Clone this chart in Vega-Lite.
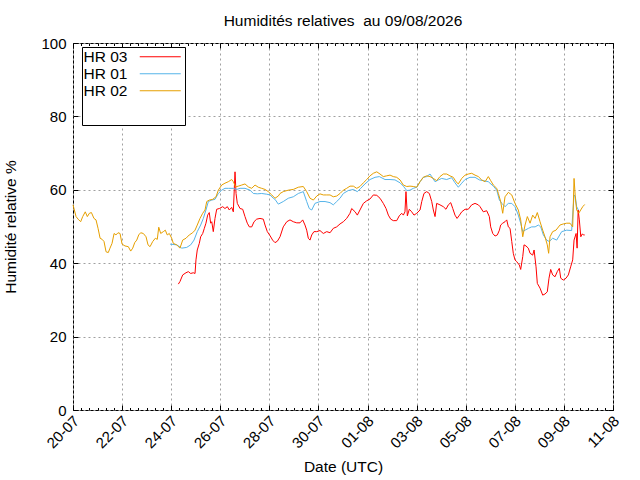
{
  "$schema": "https://vega.github.io/schema/vega-lite/v6.json",
  "width": 540,
  "height": 367,
  "autosize": {"type": "none"},
  "padding": {"left": 73, "top": 43, "right": 27, "bottom": 70},
  "background": "white",
  "title": {
    "text": "Humidités relatives \u00a0au 09/08/2026",
    "font": "Liberation Sans",
    "fontSize": 15.5,
    "fontWeight": "normal",
    "color": "black",
    "anchor": "middle",
    "offset": 7
  },
  "config": {
    "view": {"stroke": "black", "strokeWidth": 1},
    "axis": {
      "labelFont": "Liberation Sans",
      "labelFontSize": 15,
      "labelColor": "black",
      "titleFont": "Liberation Sans",
      "titleFontSize": 15.5,
      "titleFontWeight": "normal",
      "titleColor": "black",
      "domain": false,
      "tickColor": "black",
      "gridColor": "#a0a0a0",
      "gridDash": [2, 3],
      "labelFlush": false,
      "labelOverlap": false
    },
    "legend": {
      "orient": "none",
      "legendX": 9,
      "legendY": 4,
      "symbolType": "M9.6,0H17.8",
      "symbolSize": 100,
      "symbolStrokeWidth": 1,
      "labelFont": "Liberation Sans",
      "labelFontSize": 15.5,
      "labelColor": "black",
      "labelAlign": "left",
      "labelOffset": -16,
      "strokeColor": "black",
      "fillColor": "white",
      "padding": 2,
      "rowPadding": -4,
      "titleOrient": "bottom",
      "titleFontSize": 10,
      "titlePadding": 14
    }
  },
  "data": {
    "values": [
      {"t": "2026-07-24T07:00Z", "s": "HR 03", "v": 34.3},
      {"t": "2026-07-24T08:35Z", "s": "HR 03", "v": 35},
      {"t": "2026-07-24T11:15Z", "s": "HR 03", "v": 36.8},
      {"t": "2026-07-24T14:30Z", "s": "HR 03", "v": 37.4},
      {"t": "2026-07-24T16:45Z", "s": "HR 03", "v": 37.7},
      {"t": "2026-07-24T19:05Z", "s": "HR 03", "v": 37.2},
      {"t": "2026-07-24T21:35Z", "s": "HR 03", "v": 37.4},
      {"t": "2026-07-24T23:20Z", "s": "HR 03", "v": 37.2},
      {"t": "2026-07-25T00:15Z", "s": "HR 03", "v": 40.9},
      {"t": "2026-07-25T01:30Z", "s": "HR 03", "v": 43.6},
      {"t": "2026-07-25T03:30Z", "s": "HR 03", "v": 45.4},
      {"t": "2026-07-25T04:50Z", "s": "HR 03", "v": 47.2},
      {"t": "2026-07-25T06:50Z", "s": "HR 03", "v": 48.1},
      {"t": "2026-07-25T08:25Z", "s": "HR 03", "v": 49.5},
      {"t": "2026-07-25T10:00Z", "s": "HR 03", "v": 50.9},
      {"t": "2026-07-25T11:40Z", "s": "HR 03", "v": 53.1},
      {"t": "2026-07-25T13:15Z", "s": "HR 03", "v": 53.8},
      {"t": "2026-07-25T14:35Z", "s": "HR 03", "v": 50.9},
      {"t": "2026-07-25T15:40Z", "s": "HR 03", "v": 51.3},
      {"t": "2026-07-25T17:10Z", "s": "HR 03", "v": 48.6},
      {"t": "2026-07-25T18:50Z", "s": "HR 03", "v": 52.2},
      {"t": "2026-07-25T20:30Z", "s": "HR 03", "v": 54.7},
      {"t": "2026-07-25T23:05Z", "s": "HR 03", "v": 54.9},
      {"t": "2026-07-26T02:25Z", "s": "HR 03", "v": 55.4},
      {"t": "2026-07-26T04:35Z", "s": "HR 03", "v": 54.9},
      {"t": "2026-07-26T06:55Z", "s": "HR 03", "v": 55.4},
      {"t": "2026-07-26T08:50Z", "s": "HR 03", "v": 54.5},
      {"t": "2026-07-26T11:10Z", "s": "HR 03", "v": 55.2},
      {"t": "2026-07-26T12:45Z", "s": "HR 03", "v": 54},
      {"t": "2026-07-26T14:25Z", "s": "HR 03", "v": 64.9},
      {"t": "2026-07-26T15:25Z", "s": "HR 03", "v": 59},
      {"t": "2026-07-26T16:40Z", "s": "HR 03", "v": 56.3},
      {"t": "2026-07-26T19:20Z", "s": "HR 03", "v": 54.9},
      {"t": "2026-07-26T21:55Z", "s": "HR 03", "v": 54.7},
      {"t": "2026-07-27T00:10Z", "s": "HR 03", "v": 52.7},
      {"t": "2026-07-27T02:25Z", "s": "HR 03", "v": 50.9},
      {"t": "2026-07-27T04:25Z", "s": "HR 03", "v": 49.9},
      {"t": "2026-07-27T06:45Z", "s": "HR 03", "v": 49.9},
      {"t": "2026-07-27T09:00Z", "s": "HR 03", "v": 51.3},
      {"t": "2026-07-27T11:35Z", "s": "HR 03", "v": 52},
      {"t": "2026-07-27T14:50Z", "s": "HR 03", "v": 52.2},
      {"t": "2026-07-27T18:05Z", "s": "HR 03", "v": 52},
      {"t": "2026-07-27T19:45Z", "s": "HR 03", "v": 50.4},
      {"t": "2026-07-27T22:00Z", "s": "HR 03", "v": 48.6},
      {"t": "2026-07-28T00:40Z", "s": "HR 03", "v": 47.5},
      {"t": "2026-07-28T03:10Z", "s": "HR 03", "v": 46.3},
      {"t": "2026-07-28T05:30Z", "s": "HR 03", "v": 45.6},
      {"t": "2026-07-28T07:50Z", "s": "HR 03", "v": 46},
      {"t": "2026-07-28T10:25Z", "s": "HR 03", "v": 47.2},
      {"t": "2026-07-28T13:35Z", "s": "HR 03", "v": 49.9},
      {"t": "2026-07-28T17:00Z", "s": "HR 03", "v": 51.3},
      {"t": "2026-07-28T20:10Z", "s": "HR 03", "v": 51.8},
      {"t": "2026-07-28T23:25Z", "s": "HR 03", "v": 51.3},
      {"t": "2026-07-29T02:45Z", "s": "HR 03", "v": 51},
      {"t": "2026-07-29T06:00Z", "s": "HR 03", "v": 51},
      {"t": "2026-07-29T08:35Z", "s": "HR 03", "v": 51.8},
      {"t": "2026-07-29T10:50Z", "s": "HR 03", "v": 50.4},
      {"t": "2026-07-29T12:30Z", "s": "HR 03", "v": 49},
      {"t": "2026-07-29T14:05Z", "s": "HR 03", "v": 46.8},
      {"t": "2026-07-29T15:45Z", "s": "HR 03", "v": 46.3},
      {"t": "2026-07-29T17:25Z", "s": "HR 03", "v": 47.7},
      {"t": "2026-07-29T19:35Z", "s": "HR 03", "v": 48.6},
      {"t": "2026-07-29T22:20Z", "s": "HR 03", "v": 48.6},
      {"t": "2026-07-30T01:30Z", "s": "HR 03", "v": 48.9},
      {"t": "2026-07-30T04:45Z", "s": "HR 03", "v": 48.1},
      {"t": "2026-07-30T08:05Z", "s": "HR 03", "v": 48.6},
      {"t": "2026-07-30T11:20Z", "s": "HR 03", "v": 48.3},
      {"t": "2026-07-30T14:30Z", "s": "HR 03", "v": 49.5},
      {"t": "2026-07-30T17:50Z", "s": "HR 03", "v": 49.9},
      {"t": "2026-07-30T21:05Z", "s": "HR 03", "v": 50.7},
      {"t": "2026-07-31T00:20Z", "s": "HR 03", "v": 51.3},
      {"t": "2026-07-31T03:35Z", "s": "HR 03", "v": 52.2},
      {"t": "2026-07-31T06:50Z", "s": "HR 03", "v": 53.6},
      {"t": "2026-07-31T08:30Z", "s": "HR 03", "v": 54.9},
      {"t": "2026-07-31T11:50Z", "s": "HR 03", "v": 54},
      {"t": "2026-07-31T14:00Z", "s": "HR 03", "v": 53.1},
      {"t": "2026-07-31T16:35Z", "s": "HR 03", "v": 54.5},
      {"t": "2026-07-31T19:55Z", "s": "HR 03", "v": 56.3},
      {"t": "2026-07-31T23:10Z", "s": "HR 03", "v": 57},
      {"t": "2026-08-01T02:25Z", "s": "HR 03", "v": 57.5},
      {"t": "2026-08-01T05:40Z", "s": "HR 03", "v": 58.6},
      {"t": "2026-08-01T09:00Z", "s": "HR 03", "v": 58.5},
      {"t": "2026-08-01T12:10Z", "s": "HR 03", "v": 57.7},
      {"t": "2026-08-01T15:25Z", "s": "HR 03", "v": 56.3},
      {"t": "2026-08-01T18:05Z", "s": "HR 03", "v": 54.9},
      {"t": "2026-08-01T20:20Z", "s": "HR 03", "v": 53.1},
      {"t": "2026-08-01T22:40Z", "s": "HR 03", "v": 52},
      {"t": "2026-08-02T01:10Z", "s": "HR 03", "v": 51.6},
      {"t": "2026-08-02T04:30Z", "s": "HR 03", "v": 51.6},
      {"t": "2026-08-02T07:00Z", "s": "HR 03", "v": 52.9},
      {"t": "2026-08-02T09:25Z", "s": "HR 03", "v": 53.6},
      {"t": "2026-08-02T11:00Z", "s": "HR 03", "v": 53.1},
      {"t": "2026-08-02T12:35Z", "s": "HR 03", "v": 54},
      {"t": "2026-08-02T13:35Z", "s": "HR 03", "v": 59.5},
      {"t": "2026-08-02T14:55Z", "s": "HR 03", "v": 52.9},
      {"t": "2026-08-02T16:50Z", "s": "HR 03", "v": 54.7},
      {"t": "2026-08-02T19:10Z", "s": "HR 03", "v": 54},
      {"t": "2026-08-02T21:25Z", "s": "HR 03", "v": 53.1},
      {"t": "2026-08-03T00:05Z", "s": "HR 03", "v": 53.6},
      {"t": "2026-08-03T03:20Z", "s": "HR 03", "v": 54.5},
      {"t": "2026-08-03T05:00Z", "s": "HR 03", "v": 56.8},
      {"t": "2026-08-03T07:10Z", "s": "HR 03", "v": 59},
      {"t": "2026-08-03T09:50Z", "s": "HR 03", "v": 59.5},
      {"t": "2026-08-03T12:25Z", "s": "HR 03", "v": 59},
      {"t": "2026-08-03T14:45Z", "s": "HR 03", "v": 56.8},
      {"t": "2026-08-03T16:20Z", "s": "HR 03", "v": 54.5},
      {"t": "2026-08-03T18:00Z", "s": "HR 03", "v": 52.7},
      {"t": "2026-08-03T19:35Z", "s": "HR 03", "v": 56.3},
      {"t": "2026-08-03T22:50Z", "s": "HR 03", "v": 55.9},
      {"t": "2026-08-04T02:05Z", "s": "HR 03", "v": 55.4},
      {"t": "2026-08-04T04:40Z", "s": "HR 03", "v": 54.7},
      {"t": "2026-08-04T07:00Z", "s": "HR 03", "v": 55.9},
      {"t": "2026-08-04T09:20Z", "s": "HR 03", "v": 56.5},
      {"t": "2026-08-04T11:20Z", "s": "HR 03", "v": 54.9},
      {"t": "2026-08-04T13:30Z", "s": "HR 03", "v": 53.1},
      {"t": "2026-08-04T15:30Z", "s": "HR 03", "v": 52.2},
      {"t": "2026-08-04T17:55Z", "s": "HR 03", "v": 53.1},
      {"t": "2026-08-04T20:05Z", "s": "HR 03", "v": 54},
      {"t": "2026-08-04T23:20Z", "s": "HR 03", "v": 54.7},
      {"t": "2026-08-05T02:30Z", "s": "HR 03", "v": 54.7},
      {"t": "2026-08-05T05:50Z", "s": "HR 03", "v": 55.9},
      {"t": "2026-08-05T09:05Z", "s": "HR 03", "v": 56.3},
      {"t": "2026-08-05T12:20Z", "s": "HR 03", "v": 55.9},
      {"t": "2026-08-05T14:00Z", "s": "HR 03", "v": 55.4},
      {"t": "2026-08-05T17:10Z", "s": "HR 03", "v": 54},
      {"t": "2026-08-05T20:30Z", "s": "HR 03", "v": 54.3},
      {"t": "2026-08-05T23:05Z", "s": "HR 03", "v": 52.7},
      {"t": "2026-08-06T00:25Z", "s": "HR 03", "v": 49.9},
      {"t": "2026-08-06T02:25Z", "s": "HR 03", "v": 48.1},
      {"t": "2026-08-06T04:40Z", "s": "HR 03", "v": 47.4},
      {"t": "2026-08-06T06:55Z", "s": "HR 03", "v": 47.7},
      {"t": "2026-08-06T08:55Z", "s": "HR 03", "v": 49},
      {"t": "2026-08-06T10:10Z", "s": "HR 03", "v": 50.4},
      {"t": "2026-08-06T12:10Z", "s": "HR 03", "v": 50.9},
      {"t": "2026-08-06T14:25Z", "s": "HR 03", "v": 51.3},
      {"t": "2026-08-06T16:05Z", "s": "HR 03", "v": 51.8},
      {"t": "2026-08-06T17:40Z", "s": "HR 03", "v": 49.9},
      {"t": "2026-08-06T19:20Z", "s": "HR 03", "v": 49.5},
      {"t": "2026-08-06T21:00Z", "s": "HR 03", "v": 45.9},
      {"t": "2026-08-06T22:30Z", "s": "HR 03", "v": 42.7},
      {"t": "2026-08-07T00:10Z", "s": "HR 03", "v": 40.9},
      {"t": "2026-08-07T01:55Z", "s": "HR 03", "v": 40.4},
      {"t": "2026-08-07T04:25Z", "s": "HR 03", "v": 39.5},
      {"t": "2026-08-07T05:45Z", "s": "HR 03", "v": 38.3},
      {"t": "2026-08-07T07:45Z", "s": "HR 03", "v": 41.8},
      {"t": "2026-08-07T09:00Z", "s": "HR 03", "v": 45},
      {"t": "2026-08-07T10:55Z", "s": "HR 03", "v": 44.7},
      {"t": "2026-08-07T13:10Z", "s": "HR 03", "v": 44.1},
      {"t": "2026-08-07T14:55Z", "s": "HR 03", "v": 42.7},
      {"t": "2026-08-07T17:30Z", "s": "HR 03", "v": 42.2},
      {"t": "2026-08-07T18:50Z", "s": "HR 03", "v": 43.6},
      {"t": "2026-08-07T20:45Z", "s": "HR 03", "v": 39},
      {"t": "2026-08-07T22:00Z", "s": "HR 03", "v": 34.5},
      {"t": "2026-08-08T00:40Z", "s": "HR 03", "v": 33.2},
      {"t": "2026-08-08T03:15Z", "s": "HR 03", "v": 31.3},
      {"t": "2026-08-08T05:30Z", "s": "HR 03", "v": 31.6},
      {"t": "2026-08-08T07:45Z", "s": "HR 03", "v": 32.2},
      {"t": "2026-08-08T09:25Z", "s": "HR 03", "v": 35.9},
      {"t": "2026-08-08T11:05Z", "s": "HR 03", "v": 38.3},
      {"t": "2026-08-08T13:00Z", "s": "HR 03", "v": 36.8},
      {"t": "2026-08-08T15:20Z", "s": "HR 03", "v": 36.3},
      {"t": "2026-08-08T17:30Z", "s": "HR 03", "v": 37.7},
      {"t": "2026-08-08T19:30Z", "s": "HR 03", "v": 38.6},
      {"t": "2026-08-08T20:55Z", "s": "HR 03", "v": 35.9},
      {"t": "2026-08-08T23:25Z", "s": "HR 03", "v": 35.4},
      {"t": "2026-08-09T02:00Z", "s": "HR 03", "v": 35.9},
      {"t": "2026-08-09T04:20Z", "s": "HR 03", "v": 36.8},
      {"t": "2026-08-09T06:35Z", "s": "HR 03", "v": 39},
      {"t": "2026-08-09T08:35Z", "s": "HR 03", "v": 40.9},
      {"t": "2026-08-09T09:55Z", "s": "HR 03", "v": 46.3},
      {"t": "2026-08-09T11:55Z", "s": "HR 03", "v": 48.1},
      {"t": "2026-08-09T12:55Z", "s": "HR 03", "v": 44.1},
      {"t": "2026-08-09T13:55Z", "s": "HR 03", "v": 54.5},
      {"t": "2026-08-09T15:05Z", "s": "HR 03", "v": 51.8},
      {"t": "2026-08-09T16:30Z", "s": "HR 03", "v": 47.2},
      {"t": "2026-08-09T18:00Z", "s": "HR 03", "v": 48},
      {"t": "2026-08-09T19:00Z", "s": "HR 03", "v": 47.7},
      {"t": "2026-08-09T20:20Z", "s": "HR 03", "v": 47.7},

      {"t": "2026-07-23T22:55Z", "s": "HR 01", "v": 45.2},
      {"t": "2026-07-24T05:25Z", "s": "HR 01", "v": 45},
      {"t": "2026-07-24T10:20Z", "s": "HR 01", "v": 44.1},
      {"t": "2026-07-24T15:10Z", "s": "HR 01", "v": 44.3},
      {"t": "2026-07-24T19:05Z", "s": "HR 01", "v": 45},
      {"t": "2026-07-24T22:20Z", "s": "HR 01", "v": 46.3},
      {"t": "2026-07-25T01:30Z", "s": "HR 01", "v": 48.6},
      {"t": "2026-07-25T04:50Z", "s": "HR 01", "v": 50.4},
      {"t": "2026-07-25T07:25Z", "s": "HR 01", "v": 52.2},
      {"t": "2026-07-25T10:00Z", "s": "HR 01", "v": 54.5},
      {"t": "2026-07-25T12:20Z", "s": "HR 01", "v": 56.8},
      {"t": "2026-07-25T15:40Z", "s": "HR 01", "v": 57.2},
      {"t": "2026-07-25T18:50Z", "s": "HR 01", "v": 57.4},
      {"t": "2026-07-25T22:05Z", "s": "HR 01", "v": 59},
      {"t": "2026-07-26T01:25Z", "s": "HR 01", "v": 59.9},
      {"t": "2026-07-26T04:35Z", "s": "HR 01", "v": 60.4},
      {"t": "2026-07-26T07:50Z", "s": "HR 01", "v": 60.4},
      {"t": "2026-07-26T12:45Z", "s": "HR 01", "v": 60.4},
      {"t": "2026-07-26T16:05Z", "s": "HR 01", "v": 60.1},
      {"t": "2026-07-26T19:20Z", "s": "HR 01", "v": 60.4},
      {"t": "2026-07-27T00:10Z", "s": "HR 01", "v": 60.4},
      {"t": "2026-07-27T05:05Z", "s": "HR 01", "v": 59.9},
      {"t": "2026-07-27T08:20Z", "s": "HR 01", "v": 59},
      {"t": "2026-07-27T12:10Z", "s": "HR 01", "v": 58.9},
      {"t": "2026-07-27T16:30Z", "s": "HR 01", "v": 59},
      {"t": "2026-07-27T21:25Z", "s": "HR 01", "v": 58.8},
      {"t": "2026-07-28T00:40Z", "s": "HR 01", "v": 58.6},
      {"t": "2026-07-28T03:50Z", "s": "HR 01", "v": 57.7},
      {"t": "2026-07-28T05:30Z", "s": "HR 01", "v": 57.4},
      {"t": "2026-07-28T08:45Z", "s": "HR 01", "v": 56.1},
      {"t": "2026-07-28T13:35Z", "s": "HR 01", "v": 56.8},
      {"t": "2026-07-28T18:30Z", "s": "HR 01", "v": 57.7},
      {"t": "2026-07-28T23:25Z", "s": "HR 01", "v": 58.1},
      {"t": "2026-07-29T04:20Z", "s": "HR 01", "v": 59},
      {"t": "2026-07-29T09:10Z", "s": "HR 01", "v": 59.5},
      {"t": "2026-07-29T12:30Z", "s": "HR 01", "v": 56.8},
      {"t": "2026-07-29T15:00Z", "s": "HR 01", "v": 54.9},
      {"t": "2026-07-29T17:25Z", "s": "HR 01", "v": 54.5},
      {"t": "2026-07-29T20:35Z", "s": "HR 01", "v": 56.3},
      {"t": "2026-07-30T01:30Z", "s": "HR 01", "v": 56.8},
      {"t": "2026-07-30T06:25Z", "s": "HR 01", "v": 56.8},
      {"t": "2026-07-30T11:20Z", "s": "HR 01", "v": 56.5},
      {"t": "2026-07-30T14:30Z", "s": "HR 01", "v": 55.9},
      {"t": "2026-07-30T17:50Z", "s": "HR 01", "v": 56.8},
      {"t": "2026-07-30T21:05Z", "s": "HR 01", "v": 57.7},
      {"t": "2026-07-31T00:20Z", "s": "HR 01", "v": 59},
      {"t": "2026-07-31T05:10Z", "s": "HR 01", "v": 59.8},
      {"t": "2026-07-31T10:05Z", "s": "HR 01", "v": 60.1},
      {"t": "2026-07-31T14:00Z", "s": "HR 01", "v": 59.5},
      {"t": "2026-07-31T17:20Z", "s": "HR 01", "v": 60.4},
      {"t": "2026-07-31T21:30Z", "s": "HR 01", "v": 61.6},
      {"t": "2026-08-01T02:25Z", "s": "HR 01", "v": 62.8},
      {"t": "2026-08-01T07:20Z", "s": "HR 01", "v": 63.4},
      {"t": "2026-08-01T11:30Z", "s": "HR 01", "v": 63.6},
      {"t": "2026-08-01T17:05Z", "s": "HR 01", "v": 62.8},
      {"t": "2026-08-01T22:00Z", "s": "HR 01", "v": 62.8},
      {"t": "2026-08-02T02:50Z", "s": "HR 01", "v": 62.7},
      {"t": "2026-08-02T07:45Z", "s": "HR 01", "v": 61.9},
      {"t": "2026-08-02T11:00Z", "s": "HR 01", "v": 61},
      {"t": "2026-08-02T14:20Z", "s": "HR 01", "v": 59.8},
      {"t": "2026-08-02T17:30Z", "s": "HR 01", "v": 59.9},
      {"t": "2026-08-02T20:45Z", "s": "HR 01", "v": 60.4},
      {"t": "2026-08-03T00:05Z", "s": "HR 01", "v": 60.7},
      {"t": "2026-08-03T03:20Z", "s": "HR 01", "v": 62.2},
      {"t": "2026-08-03T06:30Z", "s": "HR 01", "v": 63.4},
      {"t": "2026-08-03T09:50Z", "s": "HR 01", "v": 63.6},
      {"t": "2026-08-03T13:05Z", "s": "HR 01", "v": 64.3},
      {"t": "2026-08-03T14:45Z", "s": "HR 01", "v": 63.6},
      {"t": "2026-08-03T18:00Z", "s": "HR 01", "v": 62.2},
      {"t": "2026-08-03T21:15Z", "s": "HR 01", "v": 62.7},
      {"t": "2026-08-04T00:30Z", "s": "HR 01", "v": 63.1},
      {"t": "2026-08-04T05:25Z", "s": "HR 01", "v": 62.8},
      {"t": "2026-08-04T10:15Z", "s": "HR 01", "v": 63.3},
      {"t": "2026-08-04T13:30Z", "s": "HR 01", "v": 61.9},
      {"t": "2026-08-04T16:45Z", "s": "HR 01", "v": 60.7},
      {"t": "2026-08-04T20:05Z", "s": "HR 01", "v": 61.8},
      {"t": "2026-08-04T23:20Z", "s": "HR 01", "v": 62.8},
      {"t": "2026-08-05T04:10Z", "s": "HR 01", "v": 63.4},
      {"t": "2026-08-05T09:05Z", "s": "HR 01", "v": 63.4},
      {"t": "2026-08-05T13:20Z", "s": "HR 01", "v": 62.7},
      {"t": "2026-08-05T17:10Z", "s": "HR 01", "v": 62.5},
      {"t": "2026-08-05T22:05Z", "s": "HR 01", "v": 62.2},
      {"t": "2026-08-06T03:00Z", "s": "HR 01", "v": 61},
      {"t": "2026-08-06T06:20Z", "s": "HR 01", "v": 59.9},
      {"t": "2026-08-06T08:55Z", "s": "HR 01", "v": 57.2},
      {"t": "2026-08-06T11:20Z", "s": "HR 01", "v": 56.3},
      {"t": "2026-08-06T14:25Z", "s": "HR 01", "v": 55.4},
      {"t": "2026-08-06T17:40Z", "s": "HR 01", "v": 56.3},
      {"t": "2026-08-06T21:00Z", "s": "HR 01", "v": 56.3},
      {"t": "2026-08-07T00:10Z", "s": "HR 01", "v": 55.4},
      {"t": "2026-08-07T03:25Z", "s": "HR 01", "v": 53.1},
      {"t": "2026-08-07T05:45Z", "s": "HR 01", "v": 50.9},
      {"t": "2026-08-07T07:45Z", "s": "HR 01", "v": 48.6},
      {"t": "2026-08-07T10:00Z", "s": "HR 01", "v": 49},
      {"t": "2026-08-07T13:20Z", "s": "HR 01", "v": 49.5},
      {"t": "2026-08-07T16:30Z", "s": "HR 01", "v": 49.9},
      {"t": "2026-08-07T19:50Z", "s": "HR 01", "v": 49.9},
      {"t": "2026-08-07T23:00Z", "s": "HR 01", "v": 50.4},
      {"t": "2026-08-08T01:20Z", "s": "HR 01", "v": 49.9},
      {"t": "2026-08-08T03:55Z", "s": "HR 01", "v": 47.7},
      {"t": "2026-08-08T07:10Z", "s": "HR 01", "v": 46.3},
      {"t": "2026-08-08T09:40Z", "s": "HR 01", "v": 45.9},
      {"t": "2026-08-08T13:00Z", "s": "HR 01", "v": 46.8},
      {"t": "2026-08-08T16:55Z", "s": "HR 01", "v": 46.3},
      {"t": "2026-08-08T21:50Z", "s": "HR 01", "v": 48.6},
      {"t": "2026-08-09T02:45Z", "s": "HR 01", "v": 49},
      {"t": "2026-08-09T07:35Z", "s": "HR 01", "v": 48.9},
      {"t": "2026-08-09T09:55Z", "s": "HR 01", "v": 58.6},
      {"t": "2026-08-09T11:10Z", "s": "HR 01", "v": 58.1},
      {"t": "2026-08-09T12:30Z", "s": "HR 01", "v": 55.4},
      {"t": "2026-08-09T14:10Z", "s": "HR 01", "v": 54.5},

      {"t": "2026-07-20T00:00Z", "s": "HR 02", "v": 55.9},
      {"t": "2026-07-20T03:00Z", "s": "HR 02", "v": 52.7},
      {"t": "2026-07-20T05:00Z", "s": "HR 02", "v": 52},
      {"t": "2026-07-20T07:30Z", "s": "HR 02", "v": 51.3},
      {"t": "2026-07-20T09:30Z", "s": "HR 02", "v": 52.7},
      {"t": "2026-07-20T12:00Z", "s": "HR 02", "v": 54},
      {"t": "2026-07-20T14:00Z", "s": "HR 02", "v": 52.7},
      {"t": "2026-07-20T16:00Z", "s": "HR 02", "v": 53.6},
      {"t": "2026-07-20T18:00Z", "s": "HR 02", "v": 53.8},
      {"t": "2026-07-20T20:30Z", "s": "HR 02", "v": 52.2},
      {"t": "2026-07-20T22:30Z", "s": "HR 02", "v": 51.8},
      {"t": "2026-07-21T00:30Z", "s": "HR 02", "v": 49.5},
      {"t": "2026-07-21T02:30Z", "s": "HR 02", "v": 46.8},
      {"t": "2026-07-21T04:30Z", "s": "HR 02", "v": 46.5},
      {"t": "2026-07-21T06:20Z", "s": "HR 02", "v": 45.9},
      {"t": "2026-07-21T08:20Z", "s": "HR 02", "v": 43.1},
      {"t": "2026-07-21T10:30Z", "s": "HR 02", "v": 42.9},
      {"t": "2026-07-21T12:10Z", "s": "HR 02", "v": 44.1},
      {"t": "2026-07-21T14:10Z", "s": "HR 02", "v": 45.4},
      {"t": "2026-07-21T16:10Z", "s": "HR 02", "v": 48.1},
      {"t": "2026-07-21T18:00Z", "s": "HR 02", "v": 47.7},
      {"t": "2026-07-21T20:00Z", "s": "HR 02", "v": 48.3},
      {"t": "2026-07-21T22:00Z", "s": "HR 02", "v": 48.1},
      {"t": "2026-07-22T00:00Z", "s": "HR 02", "v": 45.2},
      {"t": "2026-07-22T02:50Z", "s": "HR 02", "v": 44.7},
      {"t": "2026-07-22T06:05Z", "s": "HR 02", "v": 44.5},
      {"t": "2026-07-22T08:25Z", "s": "HR 02", "v": 43.3},
      {"t": "2026-07-22T10:25Z", "s": "HR 02", "v": 44.1},
      {"t": "2026-07-22T12:20Z", "s": "HR 02", "v": 45.6},
      {"t": "2026-07-22T14:20Z", "s": "HR 02", "v": 46.3},
      {"t": "2026-07-22T16:15Z", "s": "HR 02", "v": 47.7},
      {"t": "2026-07-22T18:10Z", "s": "HR 02", "v": 48.3},
      {"t": "2026-07-22T20:45Z", "s": "HR 02", "v": 48.1},
      {"t": "2026-07-22T23:25Z", "s": "HR 02", "v": 47.2},
      {"t": "2026-07-23T01:20Z", "s": "HR 02", "v": 45},
      {"t": "2026-07-23T03:20Z", "s": "HR 02", "v": 44.5},
      {"t": "2026-07-23T05:55Z", "s": "HR 02", "v": 45.9},
      {"t": "2026-07-23T08:30Z", "s": "HR 02", "v": 46.8},
      {"t": "2026-07-23T10:25Z", "s": "HR 02", "v": 46.5},
      {"t": "2026-07-23T11:50Z", "s": "HR 02", "v": 49.8},
      {"t": "2026-07-23T13:45Z", "s": "HR 02", "v": 48.1},
      {"t": "2026-07-23T16:20Z", "s": "HR 02", "v": 48.6},
      {"t": "2026-07-23T18:15Z", "s": "HR 02", "v": 49},
      {"t": "2026-07-23T20:10Z", "s": "HR 02", "v": 47.7},
      {"t": "2026-07-23T22:10Z", "s": "HR 02", "v": 48.1},
      {"t": "2026-07-24T00:30Z", "s": "HR 02", "v": 46.8},
      {"t": "2026-07-24T02:05Z", "s": "HR 02", "v": 45.4},
      {"t": "2026-07-24T05:25Z", "s": "HR 02", "v": 45},
      {"t": "2026-07-24T08:35Z", "s": "HR 02", "v": 44.1},
      {"t": "2026-07-24T11:15Z", "s": "HR 02", "v": 46.3},
      {"t": "2026-07-24T14:30Z", "s": "HR 02", "v": 46.8},
      {"t": "2026-07-24T17:40Z", "s": "HR 02", "v": 47.7},
      {"t": "2026-07-24T21:00Z", "s": "HR 02", "v": 48.3},
      {"t": "2026-07-24T23:20Z", "s": "HR 02", "v": 49},
      {"t": "2026-07-25T01:30Z", "s": "HR 02", "v": 50.4},
      {"t": "2026-07-25T04:10Z", "s": "HR 02", "v": 52.2},
      {"t": "2026-07-25T06:50Z", "s": "HR 02", "v": 53.6},
      {"t": "2026-07-25T09:05Z", "s": "HR 02", "v": 54.5},
      {"t": "2026-07-25T10:45Z", "s": "HR 02", "v": 56.8},
      {"t": "2026-07-25T13:15Z", "s": "HR 02", "v": 57.2},
      {"t": "2026-07-25T16:35Z", "s": "HR 02", "v": 57.4},
      {"t": "2026-07-25T19:50Z", "s": "HR 02", "v": 58.1},
      {"t": "2026-07-25T22:05Z", "s": "HR 02", "v": 59.9},
      {"t": "2026-07-26T01:25Z", "s": "HR 02", "v": 61.3},
      {"t": "2026-07-26T04:35Z", "s": "HR 02", "v": 61.8},
      {"t": "2026-07-26T07:50Z", "s": "HR 02", "v": 62.2},
      {"t": "2026-07-26T11:10Z", "s": "HR 02", "v": 62.8},
      {"t": "2026-07-26T12:45Z", "s": "HR 02", "v": 62.2},
      {"t": "2026-07-26T15:05Z", "s": "HR 02", "v": 60.8},
      {"t": "2026-07-26T17:40Z", "s": "HR 02", "v": 61},
      {"t": "2026-07-26T21:00Z", "s": "HR 02", "v": 61.3},
      {"t": "2026-07-27T00:10Z", "s": "HR 02", "v": 61.6},
      {"t": "2026-07-27T03:25Z", "s": "HR 02", "v": 60.8},
      {"t": "2026-07-27T06:45Z", "s": "HR 02", "v": 60.4},
      {"t": "2026-07-27T10:00Z", "s": "HR 02", "v": 61.3},
      {"t": "2026-07-27T13:10Z", "s": "HR 02", "v": 60.7},
      {"t": "2026-07-27T16:30Z", "s": "HR 02", "v": 60.4},
      {"t": "2026-07-27T19:45Z", "s": "HR 02", "v": 60.1},
      {"t": "2026-07-27T23:00Z", "s": "HR 02", "v": 59.5},
      {"t": "2026-07-28T02:20Z", "s": "HR 02", "v": 58.6},
      {"t": "2026-07-28T05:30Z", "s": "HR 02", "v": 57.7},
      {"t": "2026-07-28T08:45Z", "s": "HR 02", "v": 58.3},
      {"t": "2026-07-28T10:25Z", "s": "HR 02", "v": 59},
      {"t": "2026-07-28T13:35Z", "s": "HR 02", "v": 59.5},
      {"t": "2026-07-28T18:30Z", "s": "HR 02", "v": 59.9},
      {"t": "2026-07-28T23:25Z", "s": "HR 02", "v": 60.1},
      {"t": "2026-07-29T04:20Z", "s": "HR 02", "v": 60.7},
      {"t": "2026-07-29T09:10Z", "s": "HR 02", "v": 60.9},
      {"t": "2026-07-29T12:30Z", "s": "HR 02", "v": 59.5},
      {"t": "2026-07-29T15:45Z", "s": "HR 02", "v": 57.7},
      {"t": "2026-07-29T19:00Z", "s": "HR 02", "v": 57.2},
      {"t": "2026-07-29T22:20Z", "s": "HR 02", "v": 58.3},
      {"t": "2026-07-30T01:30Z", "s": "HR 02", "v": 58.9},
      {"t": "2026-07-30T04:45Z", "s": "HR 02", "v": 58.6},
      {"t": "2026-07-30T08:05Z", "s": "HR 02", "v": 58.6},
      {"t": "2026-07-30T11:20Z", "s": "HR 02", "v": 58.6},
      {"t": "2026-07-30T14:30Z", "s": "HR 02", "v": 58.1},
      {"t": "2026-07-30T17:50Z", "s": "HR 02", "v": 58.3},
      {"t": "2026-07-30T21:05Z", "s": "HR 02", "v": 59},
      {"t": "2026-07-31T00:20Z", "s": "HR 02", "v": 59.9},
      {"t": "2026-07-31T03:35Z", "s": "HR 02", "v": 60.4},
      {"t": "2026-07-31T06:50Z", "s": "HR 02", "v": 61},
      {"t": "2026-07-31T10:05Z", "s": "HR 02", "v": 61},
      {"t": "2026-07-31T13:25Z", "s": "HR 02", "v": 60.4},
      {"t": "2026-07-31T16:35Z", "s": "HR 02", "v": 60.9},
      {"t": "2026-07-31T19:55Z", "s": "HR 02", "v": 61.9},
      {"t": "2026-07-31T23:10Z", "s": "HR 02", "v": 62.8},
      {"t": "2026-08-01T02:25Z", "s": "HR 02", "v": 63.8},
      {"t": "2026-08-01T05:40Z", "s": "HR 02", "v": 64.5},
      {"t": "2026-08-01T09:00Z", "s": "HR 02", "v": 64.9},
      {"t": "2026-08-01T12:10Z", "s": "HR 02", "v": 64.3},
      {"t": "2026-08-01T15:25Z", "s": "HR 02", "v": 63.6},
      {"t": "2026-08-01T18:40Z", "s": "HR 02", "v": 63.8},
      {"t": "2026-08-01T22:00Z", "s": "HR 02", "v": 64},
      {"t": "2026-08-02T01:10Z", "s": "HR 02", "v": 63.6},
      {"t": "2026-08-02T04:30Z", "s": "HR 02", "v": 63.4},
      {"t": "2026-08-02T07:45Z", "s": "HR 02", "v": 62.7},
      {"t": "2026-08-02T11:00Z", "s": "HR 02", "v": 61.3},
      {"t": "2026-08-02T14:20Z", "s": "HR 02", "v": 60.9},
      {"t": "2026-08-02T17:30Z", "s": "HR 02", "v": 61},
      {"t": "2026-08-02T20:45Z", "s": "HR 02", "v": 60.9},
      {"t": "2026-08-03T00:05Z", "s": "HR 02", "v": 60.7},
      {"t": "2026-08-03T03:20Z", "s": "HR 02", "v": 62.2},
      {"t": "2026-08-03T06:30Z", "s": "HR 02", "v": 63.4},
      {"t": "2026-08-03T09:50Z", "s": "HR 02", "v": 63.8},
      {"t": "2026-08-03T13:05Z", "s": "HR 02", "v": 63.6},
      {"t": "2026-08-03T16:20Z", "s": "HR 02", "v": 63.1},
      {"t": "2026-08-03T19:35Z", "s": "HR 02", "v": 62.5},
      {"t": "2026-08-03T22:50Z", "s": "HR 02", "v": 63.6},
      {"t": "2026-08-04T02:05Z", "s": "HR 02", "v": 64.3},
      {"t": "2026-08-04T05:25Z", "s": "HR 02", "v": 64.3},
      {"t": "2026-08-04T08:35Z", "s": "HR 02", "v": 63.8},
      {"t": "2026-08-04T11:50Z", "s": "HR 02", "v": 63.4},
      {"t": "2026-08-04T14:30Z", "s": "HR 02", "v": 62.2},
      {"t": "2026-08-04T16:45Z", "s": "HR 02", "v": 61.6},
      {"t": "2026-08-04T20:05Z", "s": "HR 02", "v": 63.1},
      {"t": "2026-08-04T23:20Z", "s": "HR 02", "v": 64},
      {"t": "2026-08-05T02:30Z", "s": "HR 02", "v": 64.3},
      {"t": "2026-08-05T05:50Z", "s": "HR 02", "v": 64.5},
      {"t": "2026-08-05T09:05Z", "s": "HR 02", "v": 64},
      {"t": "2026-08-05T12:20Z", "s": "HR 02", "v": 63.6},
      {"t": "2026-08-05T15:35Z", "s": "HR 02", "v": 62.7},
      {"t": "2026-08-05T18:55Z", "s": "HR 02", "v": 62.2},
      {"t": "2026-08-05T22:05Z", "s": "HR 02", "v": 63.6},
      {"t": "2026-08-06T00:25Z", "s": "HR 02", "v": 62.5},
      {"t": "2026-08-06T03:00Z", "s": "HR 02", "v": 61.3},
      {"t": "2026-08-06T06:20Z", "s": "HR 02", "v": 60.4},
      {"t": "2026-08-06T07:55Z", "s": "HR 02", "v": 59},
      {"t": "2026-08-06T10:10Z", "s": "HR 02", "v": 56.8},
      {"t": "2026-08-06T12:10Z", "s": "HR 02", "v": 53.6},
      {"t": "2026-08-06T14:25Z", "s": "HR 02", "v": 58.1},
      {"t": "2026-08-06T17:40Z", "s": "HR 02", "v": 59.3},
      {"t": "2026-08-06T21:00Z", "s": "HR 02", "v": 58.6},
      {"t": "2026-08-07T00:10Z", "s": "HR 02", "v": 56.3},
      {"t": "2026-08-07T03:25Z", "s": "HR 02", "v": 54.5},
      {"t": "2026-08-07T05:45Z", "s": "HR 02", "v": 51.8},
      {"t": "2026-08-07T07:45Z", "s": "HR 02", "v": 47.2},
      {"t": "2026-08-07T10:00Z", "s": "HR 02", "v": 50.4},
      {"t": "2026-08-07T12:15Z", "s": "HR 02", "v": 52.7},
      {"t": "2026-08-07T14:55Z", "s": "HR 02", "v": 50.9},
      {"t": "2026-08-07T17:30Z", "s": "HR 02", "v": 53.1},
      {"t": "2026-08-07T19:50Z", "s": "HR 02", "v": 52.2},
      {"t": "2026-08-07T22:00Z", "s": "HR 02", "v": 53.8},
      {"t": "2026-08-08T00:40Z", "s": "HR 02", "v": 51.3},
      {"t": "2026-08-08T03:15Z", "s": "HR 02", "v": 49},
      {"t": "2026-08-08T05:30Z", "s": "HR 02", "v": 47.2},
      {"t": "2026-08-08T07:45Z", "s": "HR 02", "v": 45},
      {"t": "2026-08-08T09:05Z", "s": "HR 02", "v": 42.7},
      {"t": "2026-08-08T10:25Z", "s": "HR 02", "v": 47.2},
      {"t": "2026-08-08T13:00Z", "s": "HR 02", "v": 48.6},
      {"t": "2026-08-08T16:15Z", "s": "HR 02", "v": 49},
      {"t": "2026-08-08T20:10Z", "s": "HR 02", "v": 50.4},
      {"t": "2026-08-08T23:25Z", "s": "HR 02", "v": 50.7},
      {"t": "2026-08-09T02:45Z", "s": "HR 02", "v": 50.9},
      {"t": "2026-08-09T06:00Z", "s": "HR 02", "v": 50.9},
      {"t": "2026-08-09T08:35Z", "s": "HR 02", "v": 49.9},
      {"t": "2026-08-09T09:55Z", "s": "HR 02", "v": 63.1},
      {"t": "2026-08-09T11:20Z", "s": "HR 02", "v": 57.2},
      {"t": "2026-08-09T12:30Z", "s": "HR 02", "v": 54.5},
      {"t": "2026-08-09T14:30Z", "s": "HR 02", "v": 53.6},
      {"t": "2026-08-09T16:25Z", "s": "HR 02", "v": 54.5},
      {"t": "2026-08-09T18:25Z", "s": "HR 02", "v": 55.4},
      {"t": "2026-08-09T20:20Z", "s": "HR 02", "v": 56}
    ]
  },
  "layer": [
    {
      "mark": {"type": "line", "strokeWidth": 1},
      "encoding": {
        "x": {
          "field": "t",
          "type": "temporal",
          "title": "Date (UTC)",
          "scale": {
            "type": "utc",
            "domain": [
              {"year": 2026, "month": 7, "date": 20, "utc": true},
              {"year": 2026, "month": 8, "date": 11, "utc": true}
            ]
          },
          "axis": {
            "orient": "bottom",
            "grid": true,
            "format": "%d-%m",
            "values": [
              1784505600000, 1784678400000, 1784851200000, 1785024000000,
              1785196800000, 1785369600000, 1785542400000, 1785715200000,
              1785888000000, 1786060800000, 1786233600000, 1786406400000
            ],
            "labelAngle": -45,
            "labelAlign": "right",
            "labelBaseline": "middle",
            "labelPadding": 13,
            "labelOffset": 3,
            "tickSize": -5,
            "titlePadding": 9
          }
        },
        "y": {
          "field": "v",
          "type": "quantitative",
          "title": "Humidité relative %",
          "scale": {"domain": [0, 100]},
          "axis": {
            "orient": "left",
            "grid": true,
            "values": [0, 20, 40, 60, 80, 100],
            "tickSize": -5,
            "labelPadding": 12,
            "titlePadding": 22
          }
        },
        "color": {
          "field": "s",
          "type": "nominal",
          "scale": {"domain": ["HR 03", "HR 01", "HR 02"], "range": ["#ff0000", "#56b4e9", "#e69f00"]},
          "legend": {"title": "\u00a0"}
        }
      }
    },
    {
      "mark": {"type": "line", "opacity": 0},
      "encoding": {
        "x": {
          "field": "t",
          "type": "temporal",
          "axis": {
            "orient": "top",
            "title": null,
            "labels": false,
            "grid": false,
            "values": [
              1784505600000, 1784678400000, 1784851200000, 1785024000000,
              1785196800000, 1785369600000, 1785542400000, 1785715200000,
              1785888000000, 1786060800000, 1786233600000, 1786406400000
            ],
            "tickSize": -5
          }
        },
        "y": {
          "field": "v",
          "type": "quantitative",
          "axis": {
            "orient": "right",
            "title": null,
            "labels": false,
            "grid": false,
            "values": [0, 20, 40, 60, 80, 100],
            "tickSize": -5
          }
        }
      }
    },
    {
      "mark": {"type": "line", "opacity": 0},
      "encoding": {
        "x": {
          "field": "t",
          "type": "temporal",
          "axis": {
            "orient": "bottom",
            "title": null,
            "labels": false,
            "grid": false,
            "values": [
              1784505600000, 1784534400000, 1784563200000, 1784592000000, 1784620800000, 1784649600000,
              1784678400000, 1784707200000, 1784736000000, 1784764800000, 1784793600000, 1784822400000,
              1784851200000, 1784880000000, 1784908800000, 1784937600000, 1784966400000, 1784995200000,
              1785024000000, 1785052800000, 1785081600000, 1785110400000, 1785139200000, 1785168000000,
              1785196800000, 1785225600000, 1785254400000, 1785283200000, 1785312000000, 1785340800000,
              1785369600000, 1785398400000, 1785427200000, 1785456000000, 1785484800000, 1785513600000,
              1785542400000, 1785571200000, 1785600000000, 1785628800000, 1785657600000, 1785686400000,
              1785715200000, 1785744000000, 1785772800000, 1785801600000, 1785830400000, 1785859200000,
              1785888000000, 1785916800000, 1785945600000, 1785974400000, 1786003200000, 1786032000000,
              1786060800000, 1786089600000, 1786118400000, 1786147200000, 1786176000000, 1786204800000,
              1786233600000, 1786262400000, 1786291200000, 1786320000000, 1786348800000, 1786377600000,
              1786406400000
            ],
            "tickSize": -2.5
          }
        },
        "y": {"field": "v", "type": "quantitative", "axis": null}
      }
    },
    {
      "mark": {"type": "line", "opacity": 0},
      "encoding": {
        "x": {
          "field": "t",
          "type": "temporal",
          "axis": {
            "orient": "top",
            "title": null,
            "labels": false,
            "grid": false,
            "values": [
              1784505600000, 1784534400000, 1784563200000, 1784592000000, 1784620800000, 1784649600000,
              1784678400000, 1784707200000, 1784736000000, 1784764800000, 1784793600000, 1784822400000,
              1784851200000, 1784880000000, 1784908800000, 1784937600000, 1784966400000, 1784995200000,
              1785024000000, 1785052800000, 1785081600000, 1785110400000, 1785139200000, 1785168000000,
              1785196800000, 1785225600000, 1785254400000, 1785283200000, 1785312000000, 1785340800000,
              1785369600000, 1785398400000, 1785427200000, 1785456000000, 1785484800000, 1785513600000,
              1785542400000, 1785571200000, 1785600000000, 1785628800000, 1785657600000, 1785686400000,
              1785715200000, 1785744000000, 1785772800000, 1785801600000, 1785830400000, 1785859200000,
              1785888000000, 1785916800000, 1785945600000, 1785974400000, 1786003200000, 1786032000000,
              1786060800000, 1786089600000, 1786118400000, 1786147200000, 1786176000000, 1786204800000,
              1786233600000, 1786262400000, 1786291200000, 1786320000000, 1786348800000, 1786377600000,
              1786406400000
            ],
            "tickSize": -2.5
          }
        },
        "y": {"field": "v", "type": "quantitative", "axis": null}
      }
    }
  ],
  "resolve": {"axis": {"x": "independent", "y": "independent"}}
}
